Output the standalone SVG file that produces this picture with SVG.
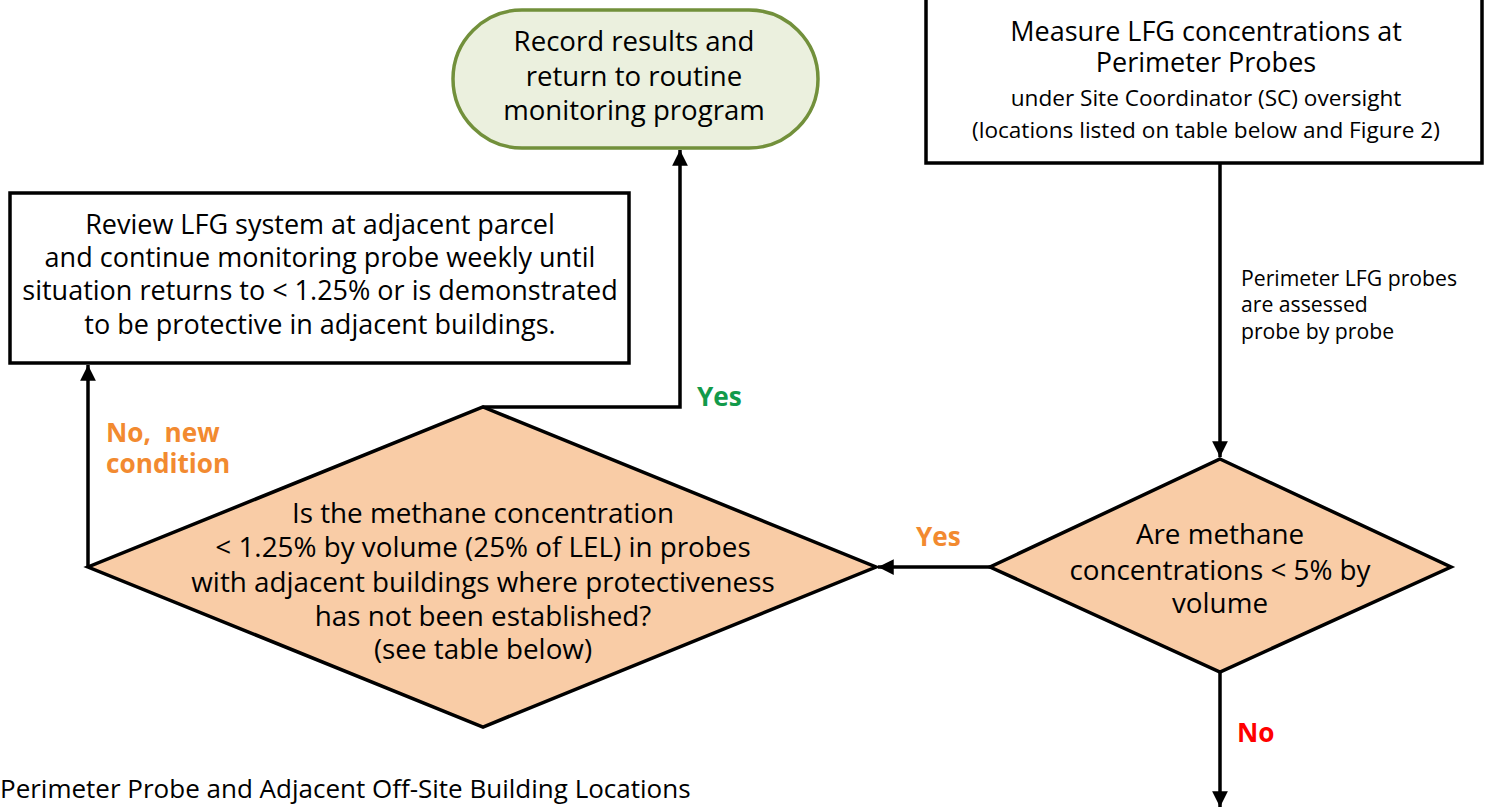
<svg xmlns="http://www.w3.org/2000/svg" width="1492" height="810" viewBox="0 0 1492 810">
<style>
text{font-family:"Open Sans","Liberation Sans",Arial,sans-serif;fill:#000;}
.tb{font-size:27px;text-anchor:middle;}
.tl{font-size:27px;text-anchor:middle;}
.tt{font-size:27.6px;text-anchor:middle;}
.td{font-size:27.8px;text-anchor:middle;}
.t20{font-size:22.6px;text-anchor:middle;}
.t18{font-size:21.2px;}
.lbl{font-size:26.2px;font-weight:bold;}
.box{fill:#fff;stroke:#000;stroke-width:3.5;}
.dia{fill:#f9cca6;stroke:#000;stroke-width:3.5;stroke-linejoin:miter;}
.term{fill:#ebf0de;stroke:#72903b;stroke-width:3.5;}
.conn{fill:none;stroke:#000;stroke-width:3.5;}
</style>
<defs>
<marker id="arr" viewBox="0 0 10 10" refX="10" refY="5" markerWidth="4.5" markerHeight="4.5" orient="auto" markerUnits="strokeWidth">
<path d="M0,0 L10,5 L0,10 Z" fill="#000"/>
</marker>
</defs>
<rect width="1492" height="810" fill="#fff"/>

<g id="connectors">
<path class="conn" d="M1220,163 L1220,457" marker-end="url(#arr)"/>
<path class="conn" d="M990,567 L878,567" marker-end="url(#arr)"/>
<path class="conn" d="M1220,672 L1220,807" marker-end="url(#arr)"/>
<path class="conn" d="M483,407 L680,407 L680,150" marker-end="url(#arr)"/>
<path class="conn" d="M88,567 L88,365" marker-end="url(#arr)"/>
<text class="t18" x="1241" y="286">Perimeter LFG probes</text>
<text class="t18" x="1241" y="312">are assessed</text>
<text class="t18" x="1241" y="339">probe by probe</text>
<text class="lbl" x="916" y="546" style="fill:#f28a30">Yes</text>
<text class="lbl" x="1237" y="742" style="fill:#ff0000">No</text>
<text class="lbl" x="697" y="406" style="fill:#129a4a">Yes</text>
<text class="lbl" x="106" y="442" style="fill:#f28a30">No,&#160; new</text>
<text class="lbl" x="106" y="473" style="fill:#f28a30">condition</text>
</g>

<g id="measure">
<rect class="box" x="926" y="-2" width="556" height="165"/>
<text class="tb" x="1206" y="41">Measure LFG concentrations at</text>
<text class="tb" x="1206" y="72">Perimeter Probes</text>
<text class="t20" x="1206" y="106">under Site Coordinator (SC) oversight</text>
<text class="t20" x="1206" y="138">(locations listed on table below and Figure 2)</text>
</g>

<g id="record">
<rect class="term" x="453" y="10" width="365" height="138" rx="69" ry="69"/>
<text class="tt" x="634" y="51">Record results and</text>
<text class="tt" x="634" y="86">return to routine</text>
<text class="tt" x="634" y="120">monitoring program</text>
</g>

<g id="review">
<rect class="box" x="10" y="193" width="619" height="170"/>
<text class="tl" x="320" y="234">Review LFG system at adjacent parcel</text>
<text class="tl" x="320" y="267">and continue monitoring probe weekly until</text>
<text class="tl" x="320" y="300">situation returns to &lt; 1.25% or is demonstrated</text>
<text class="tl" x="320" y="334">to be protective in adjacent buildings.</text>
</g>

<g id="decision1">
<polygon class="dia" points="1220,459 1451,567 1220,672 990,567"/>
<text class="td" x="1220" y="544">Are methane</text>
<text class="td" x="1220" y="580">concentrations &lt; 5% by</text>
<text class="td" x="1220" y="613">volume</text>
</g>

<g id="decision2">
<polygon class="dia" points="483,407 876,567 483,727 88,567"/>
<text class="td" x="483" y="523">Is the methane concentration</text>
<text class="td" x="483" y="557">&lt; 1.25% by volume (25% of LEL) in probes</text>
<text class="td" x="483" y="592">with adjacent buildings where protectiveness</text>
<text class="td" x="483" y="626">has not been established?</text>
<text class="td" x="483" y="659">(see table below)</text>
</g>

<text x="0" y="798" style="font-size:26px">Perimeter Probe and Adjacent Off-Site Building Locations</text>
</svg>
